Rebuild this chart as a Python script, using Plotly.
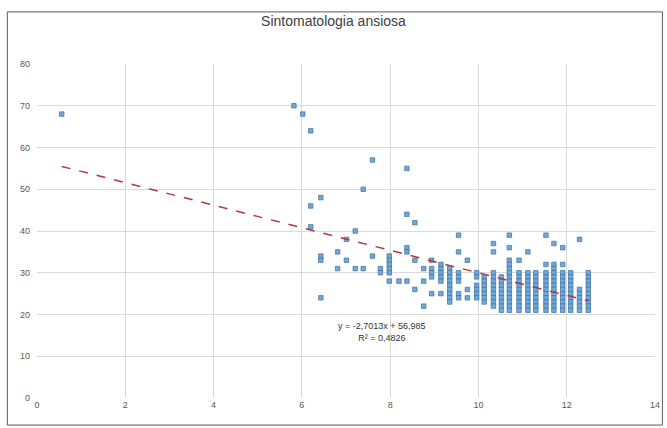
import plotly.graph_objects as go

# Columns of observations: one x value per column, with the y scores stacked on it
col_x = [0.56, 5.82, 6.02, 6.20, 6.43, 6.81, 7.01, 7.21, 7.39, 7.60, 7.78,
         7.98, 8.20, 8.38, 8.56, 8.76, 8.94, 9.15, 9.35, 9.55, 9.75,
         9.96, 10.13, 10.34, 10.52, 10.70, 10.92, 11.12, 11.30, 11.53,
         11.71, 11.91, 12.09, 12.29, 12.49]

col_y = [
    [68],
    [70],
    [68],
    [64, 46, 41],
    [48, 34, 33, 24],
    [35, 31],
    [38, 33],
    [40, 31],
    [50, 31],
    [57, 34],
    [31, 30],
    [34, 33, 32, 31, 30, 28],
    [28],
    [55, 44, 36, 35, 28],
    [42, 33, 26],
    [31, 28, 22],
    [33, 31, 30, 29, 25],
    [32, 31, 30, 29, 28, 25],
    [31, 30, 29, 28, 27, 26, 25, 24, 23],
    [39, 35, 30, 29, 28, 25, 24],
    [33, 26, 24],
    [30, 29, 27, 26, 25, 24],
    [29, 28, 27, 26, 25, 24, 23],
    [37, 35, 30, 29, 28, 27, 26, 25, 24, 23, 22],
    [29, 28, 27, 26, 25, 24, 23, 22, 21],
    [39, 36, 33, 32, 31, 30, 29, 28, 27, 26, 25, 24, 23, 22, 21],
    [33, 30, 29, 28, 27, 26, 25, 24, 23, 22, 21],
    [35, 30, 29, 28, 27, 26, 25, 24, 23, 22, 21],
    [30, 29, 28, 27, 26, 25, 24, 23, 22, 21],
    [39, 32, 30, 29, 28, 27, 26, 25, 24, 23, 22, 21],
    [37, 32, 31, 30, 29, 28, 27, 26, 25, 24, 23, 22, 21],
    [36, 32, 30, 29, 28, 27, 26, 25, 24, 23, 22, 21],
    [30, 29, 28, 27, 26, 25, 24, 23, 22, 21],
    [38, 26, 25, 24, 23, 22, 21],
    [30, 29, 28, 27, 26, 25, 24, 23, 22, 21],
]

# Linear trendline as reported on the chart
slope = -2.7013
intercept = 56.985
r_squared = 0.4826

title_text = "Sintomatologia ansiosa"
x_ticks = [0, 2, 4, 6, 8, 10, 12, 14]
y_ticks = [0, 10, 20, 30, 40, 50, 60, 70, 80]

xs, ys = [], []
for cx, vals in zip(col_x, col_y):
    for v in vals:
        xs.append(cx)
        ys.append(v)

x_min, x_max = min(xs), max(xs)
trend_x = [x_min, x_max]
trend_y = [slope * x + intercept for x in trend_x]

fig = go.Figure()
fig.add_trace(go.Scatter(
    x=xs, y=ys, mode="markers",
    marker=dict(symbol="square", size=4.5, color="#6fa8dc",
                line=dict(width=0.7, color="#41719c")),
    showlegend=False,
))
fig.add_trace(go.Scatter(
    x=trend_x, y=trend_y, mode="lines",
    line=dict(color="#b03a3a", width=1.5, dash="dash"),
    showlegend=False,
))

def fmt(v, nd):
    return f"{abs(v):.{nd}f}".replace(".", ",")

eq = (f"y = -{fmt(slope, 4)}x + {fmt(intercept, 3)}<br>"
      f"R² = {fmt(r_squared, 4)}")
fig.add_annotation(x=7.82, y=15.8, text=eq, showarrow=False,
                   font=dict(size=9, color="#333333", family="Liberation Sans"),
                   align="center")

grid = "#d9d9d9"
fig.update_xaxes(range=[0, 14], tickvals=x_ticks, showgrid=True, gridcolor=grid,
                 zeroline=False, showline=False, ticks="",
                 tickfont=dict(size=9, color="#595959"))
fig.update_yaxes(range=[0, 80], tickvals=y_ticks, showgrid=True, gridcolor=grid,
                 zeroline=False, showline=False, ticks="",
                 ticklabelstandoff=6,
                 tickfont=dict(size=9, color="#595959"))

# Chart-area frame
fig.add_shape(type="rect", xref="paper", yref="paper",
              x0=-0.048, x1=1.012, y0=-0.081, y1=1.156,
              line=dict(color="#595959", width=1), fillcolor="rgba(0,0,0,0)",
              layer="below")

fig.update_layout(
    width=667, height=428,
    margin=dict(l=37, r=7, t=64, b=30),
    paper_bgcolor="white", plot_bgcolor="white",
    font=dict(family="Liberation Sans", color="#595959"),
    title=dict(text=title_text, x=0.5, xanchor="center",
               y=1 - 21 / 428, yanchor="middle", yref="container",
               font=dict(size=14, color="#404040", family="Liberation Sans")),
)

fig.write_html("out.html")
